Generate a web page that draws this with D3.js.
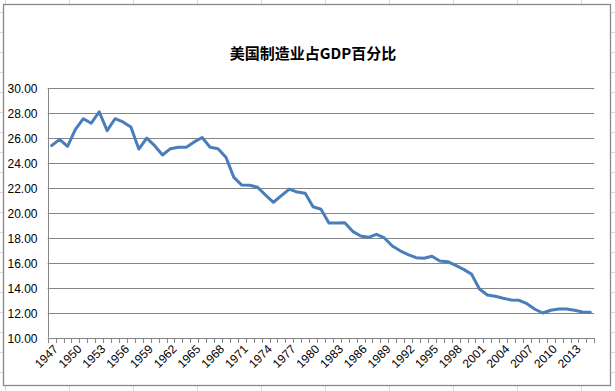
<!DOCTYPE html>
<html>
<head>
<meta charset="utf-8">
<script src="https://cdn.jsdelivr.net/npm/d3@7"></script>
<style>
  html, body { margin: 0; padding: 0; background: #fff; }
  svg { display: block; }
</style>
</head>
<body>
<svg id="chart" width="615" height="391"></svg>
<script>
const title = "美国制造业占GDP百分比";
const years = d3.range(1947, 2016);
const values = [
  25.4, 25.9, 25.35, 26.7, 27.56, 27.2, 28.12, 26.6, 27.56, 27.3,
  26.9, 25.13, 26.0, 25.4, 24.65, 25.16, 25.27, 25.27, 25.7, 26.05,
  25.27, 25.16, 24.47, 22.86, 22.24, 22.22, 22.06, 21.44, 20.86, 21.39,
  21.92, 21.68, 21.58, 20.5, 20.3, 19.19, 19.19, 19.22, 18.53, 18.16,
  18.05, 18.29, 18.0, 17.35, 16.97, 16.67, 16.42, 16.37, 16.53, 16.15,
  16.1, 15.8, 15.48, 15.1, 13.9, 13.42, 13.32, 13.16, 13.02, 13.0,
  12.73, 12.28, 11.98, 12.2, 12.3, 12.3, 12.2, 12.06, 12.04
];
const yTicks = [10, 12, 14, 16, 18, 20, 22, 24, 26, 28, 30];
const xLabelYears = years.filter((y, i) => i % 3 === 0);

(function () {
const svg = d3.select("#chart");
const W = 615, H = 391;

// spreadsheet background grid
const sheet = svg.append("g");
const colXs = d3.range(5.5, W, 64);
const rowYs = d3.range(12.5, H, 20);
sheet.selectAll("line.col").data(colXs).join("line")
  .attr("class", "col")
  .attr("x1", d => d).attr("x2", d => d).attr("y1", 0).attr("y2", H)
  .attr("stroke", "#d9d9d9").attr("stroke-width", 1);
sheet.selectAll("line.row").data(rowYs).join("line")
  .attr("class", "row")
  .attr("x1", 0).attr("x2", W).attr("y1", d => d).attr("y2", d => d)
  .attr("stroke", "#d9d9d9").attr("stroke-width", 1);

// chart area
svg.append("rect")
  .attr("x", 3.5).attr("y", 4.5).attr("width", 607).attr("height", 381)
  .attr("fill", "#fff").attr("stroke", "#888").attr("stroke-width", 1.3);

const pLeft = 47.7, pRight = 594.3, pTop = 88.3, pBottom = 337.7;

const x = d3.scaleBand().domain(years).range([pLeft, pRight]).paddingInner(0).paddingOuter(0);
const y = d3.scaleLinear().domain([10, 30]).range([pBottom, pTop]);

// title
svg.append("text")
  .attr("x", 313).attr("y", 59)
  .attr("text-anchor", "middle")
  .attr("font-family", "'Noto Sans CJK SC', sans-serif")
  .attr("font-weight", "bold")
  .attr("font-size", 15)
  .attr("fill", "#000")
  .text(title);

// gridlines
svg.append("g").selectAll("line").data(yTicks.filter(d => d !== 10)).join("line")
  .attr("x1", pLeft).attr("x2", pRight)
  .attr("y1", d => Math.round(y(d)) + 0.5).attr("y2", d => Math.round(y(d)) + 0.5)
  .attr("stroke", "#868686").attr("stroke-width", 1);

// y axis
const yAxis = d3.axisLeft(y).tickValues(yTicks).tickFormat(d3.format(".2f")).tickSize(0).tickPadding(11);
const gy = svg.append("g").attr("transform", `translate(${Math.round(pLeft) + 0.5},0)`).call(yAxis);
gy.select(".domain").attr("stroke", "#868686").attr("d", `M0,${pTop}V${pBottom}`);
gy.selectAll("text")
  .attr("font-family", "'Liberation Sans', Arial, sans-serif")
  .attr("font-size", 12).attr("fill", "#000")
  .attr("dy", "0.36em");

// x axis line and ticks (between categories)
const boundaries = years.map(d => x(d)).concat([pRight]);
const gx = svg.append("g");
gx.append("line")
  .attr("x1", pLeft).attr("x2", pRight)
  .attr("y1", Math.round(pBottom) + 0.5).attr("y2", Math.round(pBottom) + 0.5)
  .attr("stroke", "#868686");
gx.selectAll("line.tk").data(boundaries).join("line")
  .attr("class", "tk")
  .attr("x1", d => Math.round(d) + 0.5).attr("x2", d => Math.round(d) + 0.5)
  .attr("y1", Math.round(pBottom)).attr("y2", Math.round(pBottom) + 5)
  .attr("stroke", "#868686");

gx.selectAll("text").data(xLabelYears).join("text")
  .attr("transform", d => `translate(${x(d) + x.bandwidth() / 2 + 4},${pBottom + 9}) rotate(-45)`)
  .attr("text-anchor", "end")
  .attr("dy", "0.36em")
  .attr("font-family", "'Liberation Sans', Arial, sans-serif")
  .attr("font-size", 12).attr("fill", "#000")
  .text(d => d);

// line
const line = d3.line()
  .x((d, i) => x(years[i]) + x.bandwidth() / 2)
  .y(d => y(d));
svg.append("path")
  .datum(values)
  .attr("d", line)
  .attr("fill", "none")
  .attr("stroke", "#4a7ebb")
  .attr("stroke-width", 3)
  .attr("stroke-linejoin", "round")
  .attr("stroke-linecap", "round");
})();
</script>
</body>
</html>
